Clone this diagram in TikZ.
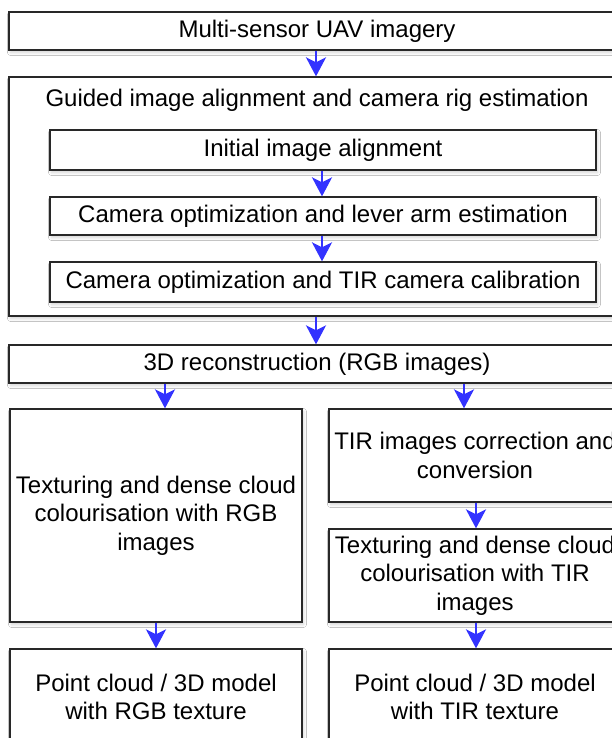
\documentclass[tikz,border=0pt]{standalone}
\usepackage{fontspec}
\setmainfont{Liberation Sans}
\usetikzlibrary{arrows.meta,shadows.blur}

\definecolor{flowblue}{RGB}{51,51,255}
\definecolor{boxline}{RGB}{40,40,40}

\tikzset{
  box/.style={draw=boxline, line width=1.3pt, fill=white, rectangle, inner sep=0pt,
    align=center, font=\fontsize{24}{28.5}\selectfont,
    blur shadow={shadow xshift=1.5pt, shadow yshift=-2.5pt, shadow blur steps=6,
      shadow blur radius=3pt, shadow opacity=18}},
  plain/.style={inner sep=0pt, align=center, font=\fontsize{24}{28.5}\selectfont},
  flow/.style={draw=flowblue, line width=2.6pt,
    -{Stealth[length=19pt, width=20pt, inset=5pt, flowblue]}, shorten >=0pt}
}

\begin{document}
\begin{tikzpicture}[x=1pt, y=-1pt]
  \useasboundingbox (0,0) rectangle (612,738);
  \fill[white] (0,0) rectangle (612,738);
  \clip (0,0) rectangle (612,738);

  % top input
  \node[box, minimum width=616pt, minimum height=38pt] (src) at (317,31) {Multi-sensor UAV imagery};

  % alignment stage with its three sub-steps
  \node[box, minimum width=616pt, minimum height=239pt] (align) at (317,196.5) {};
  \node[plain] (aligntitle) at (317,100) {Guided image alignment and camera rig estimation};
  \node[box, minimum width=546pt, minimum height=40pt] (init) at (323,150) {Initial image alignment};
  \node[box, minimum width=546pt, minimum height=38pt] (lever) at (323,216) {Camera optimization and lever arm estimation};
  \node[box, minimum width=546pt, minimum height=40pt] (calib) at (323,282) {Camera optimization and TIR camera calibration};

  % reconstruction
  \node[box, minimum width=616pt, minimum height=38pt] (recon) at (317,364) {3D reconstruction (RGB images)};

  % RGB branch
  \node[box, minimum width=292pt, minimum height=213pt] (rgbtex) at (156,515.5)
    {Texturing and dense cloud\\colourisation with RGB\\images};
  \node[box, minimum width=292pt, minimum height=96pt] (rgbout) at (156,697)
    {Point cloud / 3D model\\with RGB texture};

  % TIR branch
  \node[box, minimum width=292pt, minimum height=93pt] (tirconv) at (475,455.5)
    {TIR images correction and\\conversion};
  \node[box, minimum width=292pt, minimum height=93pt] (tirtex) at (475,575.5)
    {Texturing and dense cloud\\colourisation with TIR\\images};
  \node[box, minimum width=292pt, minimum height=96pt] (tirout) at (475,697)
    {Point cloud / 3D model\\with TIR texture};

  % connector columns
  \coordinate (cmain) at (316,0);
  \coordinate (cinner) at (322,0);
  \coordinate (cleft) at (165,0);
  \coordinate (cright) at (464,0);
  \coordinate (cleftdown) at (156,0);
  \coordinate (crightdown) at (476,0);

  \draw[flow] (src.south -| cmain) -- (align.north -| cmain);
  \draw[flow] (init.south -| cinner) -- (lever.north -| cinner);
  \draw[flow] (lever.south -| cinner) -- (calib.north -| cinner);
  \draw[flow] (align.south -| cmain) -- (recon.north -| cmain);
  \draw[flow] (recon.south -| cleft) -- (rgbtex.north -| cleft);
  \draw[flow] (recon.south -| cright) -- (tirconv.north -| cright);
  \draw[flow] (rgbtex.south -| cleftdown) -- (rgbout.north -| cleftdown);
  \draw[flow] (tirconv.south -| crightdown) -- (tirtex.north -| crightdown);
  \draw[flow] (tirtex.south -| crightdown) -- (tirout.north -| crightdown);
\end{tikzpicture}
\end{document}
